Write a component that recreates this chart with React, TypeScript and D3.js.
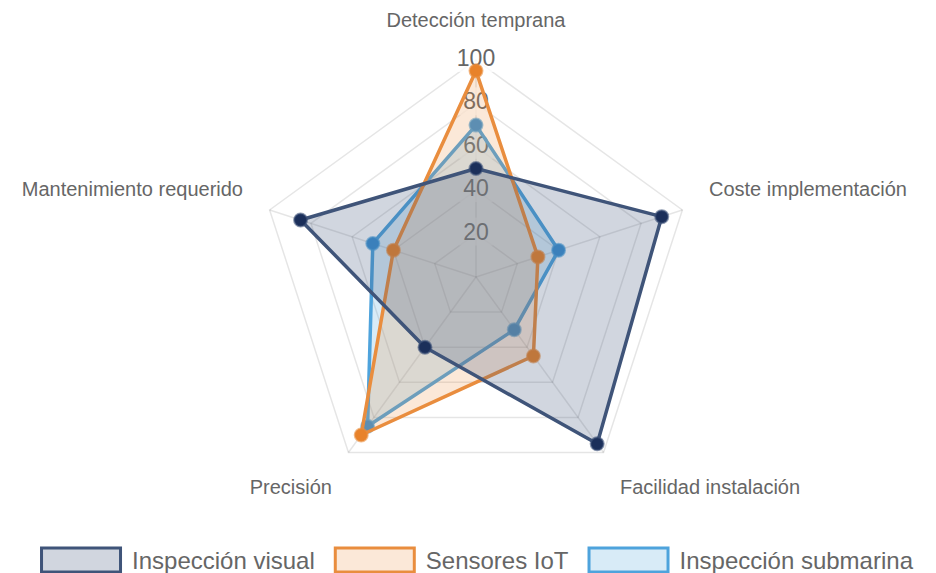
import React, { useEffect } from "react";
import * as d3 from "d3";

const axes = [
  "Detección temprana",
  "Coste implementación",
  "Facilidad instalación",
  "Precisión",
  "Mantenimiento requerido",
];
const inspeccionVisual = [50, 90, 95, 40, 85];
const sensoresIoT = [95, 30, 45, 90, 40];
const inspeccionSubmarina = [70, 40, 30, 85, 50];
const tickValues = [20, 40, 60, 80, 100];
const seriesNames = ["Inspección visual", "Sensores IoT", "Inspección submarina"];

const W = 936;
const H = 573;
const cx = 476;
const cy = 277;
const R = 217;

const styles = [
  { stroke: "#3f5479", fill: "rgba(63,84,121,0.24)", point: "#1b2f5a" },
  { stroke: "#e98d3e", fill: "rgba(233,141,62,0.2)", point: "#e8822a" },
  { stroke: "#4ea3dc", fill: "rgba(78,163,220,0.22)", point: "#3a8fd0" },
];

const FONT = "'Liberation Sans', Arial, Helvetica, sans-serif";

function measure(text: string, size: number): number {
  const c = document.createElement("canvas").getContext("2d");
  if (!c) return text.length * size * 0.5;
  c.font = `${size}px ${FONT}`;
  return c.measureText(text).width;
}

export default function App() {
  useEffect(() => {
    document.body.style.margin = "0";
  }, []);

  const series = [inspeccionVisual, sensoresIoT, inspeccionSubmarina];
  const r = d3.scaleLinear().domain([0, 100]).range([0, R]);
  const angle = d3
    .scaleLinear()
    .domain([0, axes.length])
    .range([0, 2 * Math.PI]);

  const radial = d3
    .lineRadial<number>()
    .angle((_, i) => angle(i))
    .radius((d) => r(d))
    .curve(d3.curveLinearClosed);

  const pt = (i: number, v: number) => {
    const a = angle(i);
    return [cx + r(v) * Math.sin(a), cy - r(v) * Math.cos(a)];
  };

  const gridRings = tickValues.map((t) => radial(axes.map(() => t)) as string);

  // legend layout
  const boxW = 82;
  const boxH = 24;
  const legendFont = 24;
  const gapBoxText = 10;
  const gapItems = 19;
  const widths = seriesNames.map((n) => boxW + gapBoxText + measure(n, legendFont));
  const total = widths.reduce((a, b) => a + b, 0) + gapItems * (widths.length - 1);
  let lx = cx + 0.5 - total / 2;
  const legendItems = seriesNames.map((n, i) => {
    const x = lx;
    lx += widths[i] + gapItems;
    return { name: n, x, i };
  });
  const legendY = 560;

  const labelPad = 28;
  const labelFont = 20;
  const labelH = 24;
  const tickFont = 23;

  return (
    <svg width={W} height={H} style={{ display: "block", fontFamily: FONT }}>
      <rect width={W} height={H} fill="#ffffff" />
      <g transform={`translate(${cx},${cy})`}>
        {gridRings.map((d, i) => (
          <path key={i} d={d} fill="none" stroke="rgba(0,0,0,0.1)" strokeWidth={1.5} />
        ))}
      </g>
      {axes.map((_, i) => {
        const [x, y] = pt(i, 100);
        return <line key={i} x1={cx} y1={cy} x2={x} y2={y} stroke="rgba(0,0,0,0.1)" strokeWidth={1.5} />;
      })}
      {axes.map((name, i) => {
        const a = angle(i);
        const deg = (a * 180) / Math.PI;
        const x = cx + (R + labelPad) * Math.sin(a);
        const yBase = cy - (R + labelPad) * Math.cos(a);
        let anchor: "start" | "middle" | "end" = "middle";
        if (deg > 1 && deg < 179) anchor = "start";
        else if (deg > 181 && deg < 359) anchor = "end";
        let y = yBase;
        if (deg < 90 || deg > 270) y = yBase - labelH / 2;
        else if (deg > 90 && deg < 270) y = yBase + labelH / 2;
        return (
          <text
            key={name}
            x={x}
            y={y}
            textAnchor={anchor}
            dominantBaseline="central"
            fontSize={labelFont}
            fill="#666"
          >
            {name}
          </text>
        );
      })}
      {tickValues.map((t) => {
        const y = cy - r(t) - 2;
        const tw = measure(String(t), tickFont);
        return (
          <g key={t}>
            <rect x={cx - tw / 2 - 4} y={y - 14} width={tw + 8} height={28} fill="rgba(255,255,255,0.75)" />
            <text x={cx} y={y} textAnchor="middle" dominantBaseline="central" fontSize={tickFont} fill="#666">
              {t}
            </text>
          </g>
        );
      })}
      {[2, 1, 0].map((si) => {
        const s = styles[si];
        const d = series[si];
        return (
          <g key={si}>
            <path
              d={radial(d) as string}
              transform={`translate(${cx},${cy})`}
              fill={s.fill}
              stroke={s.stroke}
              strokeWidth={3.5}
              strokeLinejoin="round"
            />
            {d.map((v, i) => {
              const [x, y] = pt(i, v);
              return <circle key={i} cx={x} cy={y} r={6.5} fill={s.point} stroke={s.stroke} strokeOpacity={0.6} strokeWidth={2} />;
            })}
          </g>
        );
      })}
      {legendItems.map((it) => {
        const s = styles[it.i];
        return (
          <g key={it.name}>
            <rect
              x={it.x + 1.5}
              y={legendY - boxH / 2}
              width={boxW - 3}
              height={boxH}
              fill={s.fill}
              stroke={s.stroke}
              strokeWidth={3}
            />
            <text
              x={it.x + boxW + gapBoxText}
              y={legendY}
              dominantBaseline="central"
              fontSize={legendFont}
              fill="#666"
            >
              {it.name}
            </text>
          </g>
        );
      })}
    </svg>
  );
}
